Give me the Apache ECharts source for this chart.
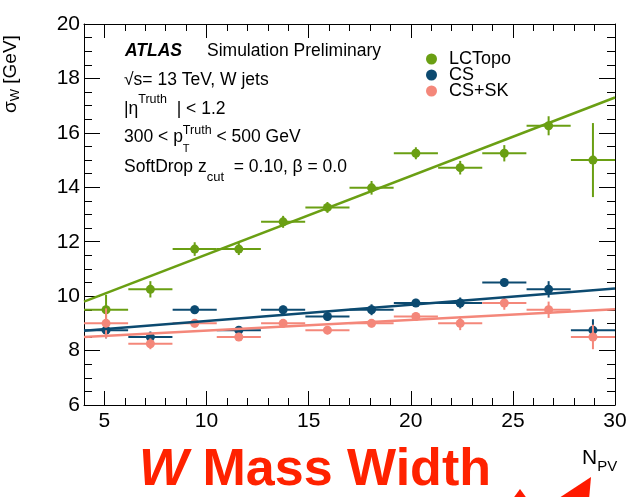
<!DOCTYPE html>
<html>
<head>
<meta charset="utf-8">
<script src="https://cdn.jsdelivr.net/npm/echarts@6/dist/echarts.min.js"></script>
<style>
  html, body { margin: 0; padding: 0; background: #fff; }
  #chart { width: 630px; height: 497px; }
</style>
</head>
<body>
<div id="chart"></div>
<script>
/* ---- data ---- */
const binCenters = [5.08, 7.25, 9.42, 11.58, 13.75, 15.92, 18.08, 20.25, 22.42, 24.58, 26.75, 28.92];
const binHalfWidth = 1.08;

const lcTopo    = [9.5, 10.25, 11.73, 11.73, 12.73, 13.26, 13.98, 15.25, 14.72, 15.25, 16.26, 15.0];
const lcTopoErr = [0.55, 0.3, 0.25, 0.22, 0.22, 0.2, 0.25, 0.22, 0.25, 0.3, 0.35, 1.36];
const cs        = [8.75, 8.5, 9.5, 8.75, 9.5, 9.25, 9.5, 9.75, 9.75, 10.5, 10.25, 8.75];
const csErr     = [0.3, 0.2, 0.15, 0.15, 0.15, 0.15, 0.2, 0.15, 0.2, 0.15, 0.3, 0.4];
const csSk      = [9.0, 8.25, 9.0, 8.5, 9.0, 8.75, 9.0, 9.25, 9.0, 9.75, 9.5, 8.5];
const csSkErr   = [0.55, 0.2, 0.15, 0.15, 0.15, 0.15, 0.15, 0.15, 0.25, 0.25, 0.3, 0.45];

/* straight-line fits, value at each end of the range */
const fitRange  = [4, 30];
const lcTopoFit = [9.8, 17.3];
const csFit     = [8.73, 10.28];
const csSkFit   = [8.5, 9.52];

const xTickLabels = [5, 10, 15, 20, 25, 30];

/* ---- style ---- */
const FONT = '"Liberation Sans", Arial, Helvetica, sans-serif';
const COL_LC = '#6a9f13';
const COL_CS = '#0c4a70';
const COL_SK = '#f4877a';

const measureCtx = document.createElement('canvas').getContext('2d');
function fontStr(p) {
  return (p.italic ? 'italic ' : '') + (p.bold ? 'bold ' : '') + p.size + 'px ' + FONT;
}

/* lays text pieces one after another on a shared baseline (for sub/superscripts) */
function textRun(x, baseline, parts, color) {
  let cx = x, startX = x, lastEnd = x;
  const out = [];
  parts.forEach((p) => {
    const size = p.size || 17.5;
    const q = Object.assign({ size: size }, p);
    const px = p.stack ? startX : cx;
    measureCtx.font = fontStr(q);
    const w = measureCtx.measureText(p.t).width;
    out.push({
      type: 'text',
      x: px,
      y: baseline + (p.dy || 0) - 0.3465 * size,
      style: { text: p.t, font: fontStr(q), fill: color || '#000', align: 'left', verticalAlign: 'middle' },
    });
    if (p.stack) {
      lastEnd = Math.max(lastEnd, px + w);
    } else {
      startX = px;
      lastEnd = px + w;
    }
    cx = lastEnd;
  });
  return out;
}

function pointsOf(values, errs) {
  return binCenters.map((x, i) => [x, values[i], errs[i]]);
}

function errorBars(params, api) {
  const x = api.value(0), y = api.value(1), e = api.value(2);
  const color = api.visual('color');
  const c = api.coord([x, y]);
  const l = api.coord([x - binHalfWidth, y]);
  const r = api.coord([x + binHalfWidth, y]);
  const t = api.coord([x, y + e]);
  const b = api.coord([x, y - e]);
  const ls = { stroke: color, lineWidth: 2 };
  return {
    type: 'group',
    children: [
      { type: 'line', shape: { x1: l[0], y1: l[1], x2: r[0], y2: r[1] }, style: ls },
      { type: 'line', shape: { x1: t[0], y1: t[1], x2: b[0], y2: b[1] }, style: ls },
      { type: 'circle', shape: { cx: c[0], cy: c[1], r: 4.5 }, style: { fill: color } },
    ],
  };
}

function fitLine(vals, color) {
  return {
    type: 'line',
    data: [[fitRange[0], vals[0]], [fitRange[1], vals[1]]],
    symbol: 'none',
    silent: true,
    lineStyle: { color: color, width: 2.5 },
    z: 3,
  };
}

const mainAxisX = (pos, labels) => ({
  type: 'value', position: pos, min: 4, max: 30,
  axisLine: { show: true, onZero: false, lineStyle: { color: '#000', width: 1 } },
  axisTick: { show: true, inside: true, length: 14, customValues: xTickLabels, lineStyle: { color: '#000' } },
  axisLabel: labels
    ? { show: true, customValues: xTickLabels, fontSize: 21, color: '#000', fontFamily: FONT, margin: 6 }
    : { show: false },
  splitLine: { show: false },
});
const minorAxisX = (pos) => ({
  type: 'value', position: pos, min: 4, max: 30, interval: 1,
  axisLine: { show: false },
  axisTick: { show: true, inside: true, length: 7, lineStyle: { color: '#000' } },
  axisLabel: { show: false },
  splitLine: { show: false },
});
const axisY = (pos, labels) => ({
  type: 'value', position: pos, min: 6, max: 20, interval: 2,
  axisLine: { show: true, onZero: false, lineStyle: { color: '#000', width: 1 } },
  axisTick: { show: true, inside: true, length: 16, lineStyle: { color: '#000' } },
  minorTick: { show: true, splitNumber: 4, length: 8, lineStyle: { color: '#000' } },
  axisLabel: labels
    ? { show: true, fontSize: 21, color: '#000', fontFamily: FONT, margin: 4 }
    : { show: false },
  splitLine: { show: false },
});

const chart = echarts.init(document.getElementById('chart'), null, { renderer: 'canvas' });

chart.setOption({
  animation: false,
  backgroundColor: '#fff',
  grid: { left: 84, right: 15, top: 24, bottom: 92, containLabel: false, outerBoundsMode: 'none' },
  xAxis: [mainAxisX('bottom', true), minorAxisX('bottom'), mainAxisX('top', false), minorAxisX('top')],
  yAxis: [axisY('left', true), axisY('right', false)],
  legend: {
    orient: 'vertical',
    left: 426,
    top: 50,
    padding: 0,
    itemWidth: 11,
    itemHeight: 11,
    itemGap: -2,
    data: [
      { name: 'LCTopo', icon: 'circle' },
      { name: 'CS', icon: 'circle' },
      { name: 'CS+SK', icon: 'circle' },
    ],
    textStyle: { fontSize: 18, color: '#000', fontFamily: FONT, padding: [0, 0, 0, 7] },
  },
  series: [
    { name: 'LCTopo', type: 'custom', renderItem: errorBars, data: pointsOf(lcTopo, lcTopoErr),
      itemStyle: { color: COL_LC }, encode: { x: 0, y: 1 }, z: 2 },
    { name: 'CS', type: 'custom', renderItem: errorBars, data: pointsOf(cs, csErr),
      itemStyle: { color: COL_CS }, encode: { x: 0, y: 1 }, z: 2 },
    { name: 'CS+SK', type: 'custom', renderItem: errorBars, data: pointsOf(csSk, csSkErr),
      itemStyle: { color: COL_SK }, encode: { x: 0, y: 1 }, z: 2 },
    fitLine(lcTopoFit, COL_LC),
    fitLine(csFit, COL_CS),
    fitLine(csSkFit, COL_SK),
  ],
  graphic: [
    ...textRun(125, 57, [{ t: 'ATLAS', bold: true, italic: true }]),
    ...textRun(207, 57, [{ t: 'Simulation Preliminary' }]),
    ...textRun(124, 86, [{ t: '√s= 13 TeV, W jets' }]),
    ...textRun(124, 115, [{ t: '|η' }, { t: 'Truth', size: 12.5, dy: -11 }, { t: '  |' }, { t: ' < 1.2' }]),
    ...textRun(124, 143, [{ t: '300 < p' }, { t: 'T', size: 11, dy: 10 }, { t: 'Truth', size: 12.5, dy: -8, stack: true }, { t: ' < 500 GeV' }]),
    ...textRun(124, 173, [{ t: 'SoftDrop z' }, { t: 'cut', size: 13, dy: 9 }, { t: '  = 0.10, β = 0.0' }]),
    {
      type: 'group', x: 17, y: 113, rotation: Math.PI / 2,
      children: textRun(0, 0, [{ t: 'σ', size: 19 }, { t: 'W', size: 13, dy: 3 }, { t: ' [GeV]', size: 19 }]),
    },
    ...textRun(582, 465, [{ t: 'N', size: 21 }, { t: 'PV', size: 15, dy: 7 }]),
    ...textRun(139, 489, [{ t: 'W', size: 52, bold: true, italic: true }, { t: ' Mass Width', size: 52, bold: true }], '#ff2200'),
    { type: 'polygon', shape: { points: [[591, 477], [589, 500], [556, 500]] }, style: { fill: '#ff1a00' } },
    { type: 'polygon', shape: { points: [[512, 500], [520, 489], [528, 500]] }, style: { fill: '#ff1a00' } },
  ],
});
</script>
</body>
</html>
